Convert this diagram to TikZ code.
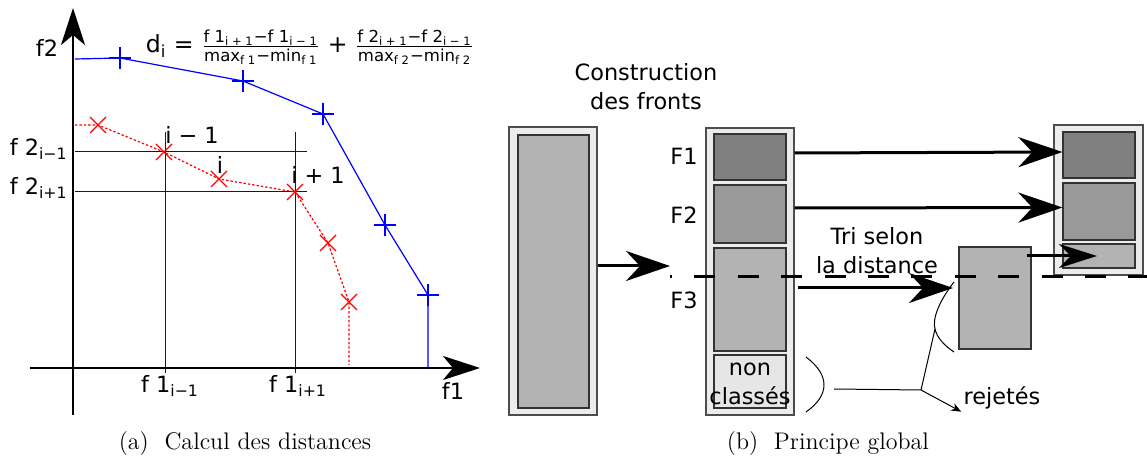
\documentclass[tikz,border=0pt]{standalone}
\usepackage{amsmath}
\usepackage{fontspec}
\newfontfamily\dejavu{DejaVu Sans}
\usepackage{tikz}
\usetikzlibrary{arrows.meta, positioning}
\definecolor{frontone}{HTML}{808080}
\definecolor{fronttwo}{HTML}{999999}
\definecolor{frontthree}{HTML}{B3B3B3}
\definecolor{boxback}{HTML}{ECECEC}
\definecolor{nonclass}{HTML}{E6E6E6}
\definecolor{edgegray}{HTML}{4D4D4D}
\definecolor{gridgray}{HTML}{1A1A1A}

\begin{document}
\begin{tikzpicture}[
    x=0.5pt, y=-0.5pt,
    lbl/.style={font=\dejavu\fontsize{11.2}{14.5}\selectfont, inner sep=1pt, align=center},
    subcap/.style={font=\large, inner sep=0pt},
    outerbox/.style={draw=edgegray, fill=boxback, line width=0.6pt, minimum width=44pt, inner sep=0pt},
    front/.style={draw=black!80, fill=#1, line width=0.6pt, minimum width=36pt, inner sep=0pt},
    axis/.style={-{Stealth[length=18.5pt, width=12pt, inset=5pt]}, line width=1.4pt},
    arrow/.style={-{Stealth[length=22pt, width=15pt, inset=7pt]}, line width=1.5pt},
    shortarrow/.style={-{Stealth[length=19pt, width=12pt, inset=6pt]}, line width=1.5pt},
    thinarrow/.style={-{Stealth[length=5pt, width=4pt]}, line width=0.5pt},
    cut/.style={line width=1.5pt, dash pattern=on 10.5pt off 11.2pt, dash phase=9.5pt},
    pareto/.style={blue, line width=0.6pt},
    second/.style={red, line width=0.6pt}
]
\useasboundingbox (0,0) rectangle (1147,459);

% (a) calcul des distances
\draw[gridgray, line width=0.5pt] (75,152) -- (307,152);
\draw[gridgray, line width=0.5pt] (75,192) -- (307,192);
\draw[gridgray, line width=0.5pt] (165,132) -- (165,373);
\draw[gridgray, line width=0.5pt] (295,132) -- (295,373);

\draw[pareto] (75,59) -- (120,58) -- (243,81) -- (323,114) -- (385,225) -- (428,295) -- (428,368);
\foreach \px/\py in {120/58, 243/81, 323/114, 385/225, 428/295}
    \draw[pareto] (\px,\py) +(-11,0) -- +(11,0) +(0,-11) -- +(0,11);

\draw[second, dash pattern=on 1.2pt off 1pt] (75,125) -- (98,125) -- (164,152) -- (219,179) -- (295,192) -- (328,243) -- (349,302) -- (349,365);
\foreach \px/\py in {98/125, 164/152, 219/179, 295/192, 328/243, 349/302}
    \draw[second] (\px,\py) +(-8,-8) -- +(8,8) +(-8,8) -- +(8,-8);

\draw[axis] (73,415) -- (73,8);
\draw[axis] (30,368) -- (480,368);

\node[lbl] (ftwo) at (47,48) {f2};
\node[lbl] (fone) at (453,391) {f1};
\node[lbl, anchor=east] (ftwoprev) at (70,149) {f 2\textsubscript{i−1}};
\node[lbl, anchor=east] (ftwonext) at (70,188) {f 2\textsubscript{i+1}};
\node[lbl] (foneprev) at (170,386) {f 1\textsubscript{i−1}};
\node[lbl] (fonenext) at (298,386) {f 1\textsubscript{i+1}};
\node[lbl] (iprev) at (192,135) {i − 1};
\node[lbl] (icur) at (220,165) {i};
\node[lbl] (inext) at (318,175) {i + 1};
\node[lbl, font=\dejavu\fontsize{11.8}{14.5}\selectfont] (dform) at (310,47) {d\textsubscript{i} = $\frac{\text{f 1\textsubscript{i + 1}−f 1\textsubscript{i − 1}}}{\text{max\textsubscript{f 1}−min\textsubscript{f 1}}}$ + $\frac{\text{f 2\textsubscript{i + 1}−f 2\textsubscript{i − 1}}}{\text{max\textsubscript{f 2}−min\textsubscript{f 2}}}$};

\node[subcap] (capa) at (245,444) {(a)~~Calcul des distances};

% (b) principe global
\node[outerbox, minimum height=144pt] (pop) at (553,271) {};
\node[front=frontthree, minimum width=35.5pt, minimum height=136.5pt] (popin) at (553.5,271.5) {};

\node[outerbox, minimum height=143.5pt] (fronts) at (750,271.5) {};
\node[front=frontone, minimum height=23pt] (fa) at (750,157) {};
\node[front=fronttwo, minimum height=29pt] (fb) at (750,214) {};
\node[front=frontthree, minimum height=51.5pt] (fc) at (750,299.5) {};
\node[front=nonclass, minimum height=26.5pt] (nc) at (750,381.5) {};
\node[lbl, inner sep=0pt] (nctxt) at (750,384) {non\\classés};

\node[front=frontthree, minimum height=51pt] (tri) at (995,298) {};

\node[outerbox, minimum width=44.5pt, minimum height=75pt] (next) at (1098.5,200) {};
\node[front=frontone, minimum height=23pt] (ra) at (1099,155) {};
\node[front=fronttwo, minimum height=28.5pt] (rb) at (1099,211.5) {};
\node[front=frontthree, minimum height=12pt] (rc) at (1099,256) {};

\node[lbl] (constr) at (646,87) {Construction\\des fronts};
\node[lbl] (lfa) at (684,156) {F1};
\node[lbl] (lfb) at (684,215) {F2};
\node[lbl] (lfc) at (684,300) {F3};
\node[lbl] (trilbl) at (877,251) {Tri selon\\la distance};
\node[lbl] (rej) at (1002,398) {rejetés};

\coordinate (cutl) at (670,277);
\coordinate (cutr) at (1147,277);
\draw[cut] (cutl) -- (cutr);

\draw[arrow] (pop.east |- 0,266) -- (670,266);
\draw[arrow] ([yshift=2pt]fa.east -| fronts.east) -- ([yshift=1.5pt]ra.west);
\draw[arrow] ([yshift=3pt]fb.east -| fronts.east) -- ([yshift=2pt]rb.west);
\draw[arrow] (798,288) -- (953,288);
\draw[shortarrow] (1027,256) -- ([xshift=-1pt]rc.center);

\coordinate (jn) at (921,390);
\coordinate (bt) at (935,329);
\draw[line width=0.5pt] (806,357) .. controls (830,375) and (830,395) .. (806,412);
\draw[line width=0.5pt] (954,282) .. controls (940,300) and (932,318) .. (bt) .. controls (937,338) and (945,346) .. (954,352);
\draw[line width=0.5pt] (834,389) -- (jn);
\draw[line width=0.5pt] (jn) -- (bt);
\draw[thinarrow] (jn) -- (rej.south west);

\node[subcap] (capb) at (828,444) {(b)~~Principe global};
\end{tikzpicture}
\end{document}
